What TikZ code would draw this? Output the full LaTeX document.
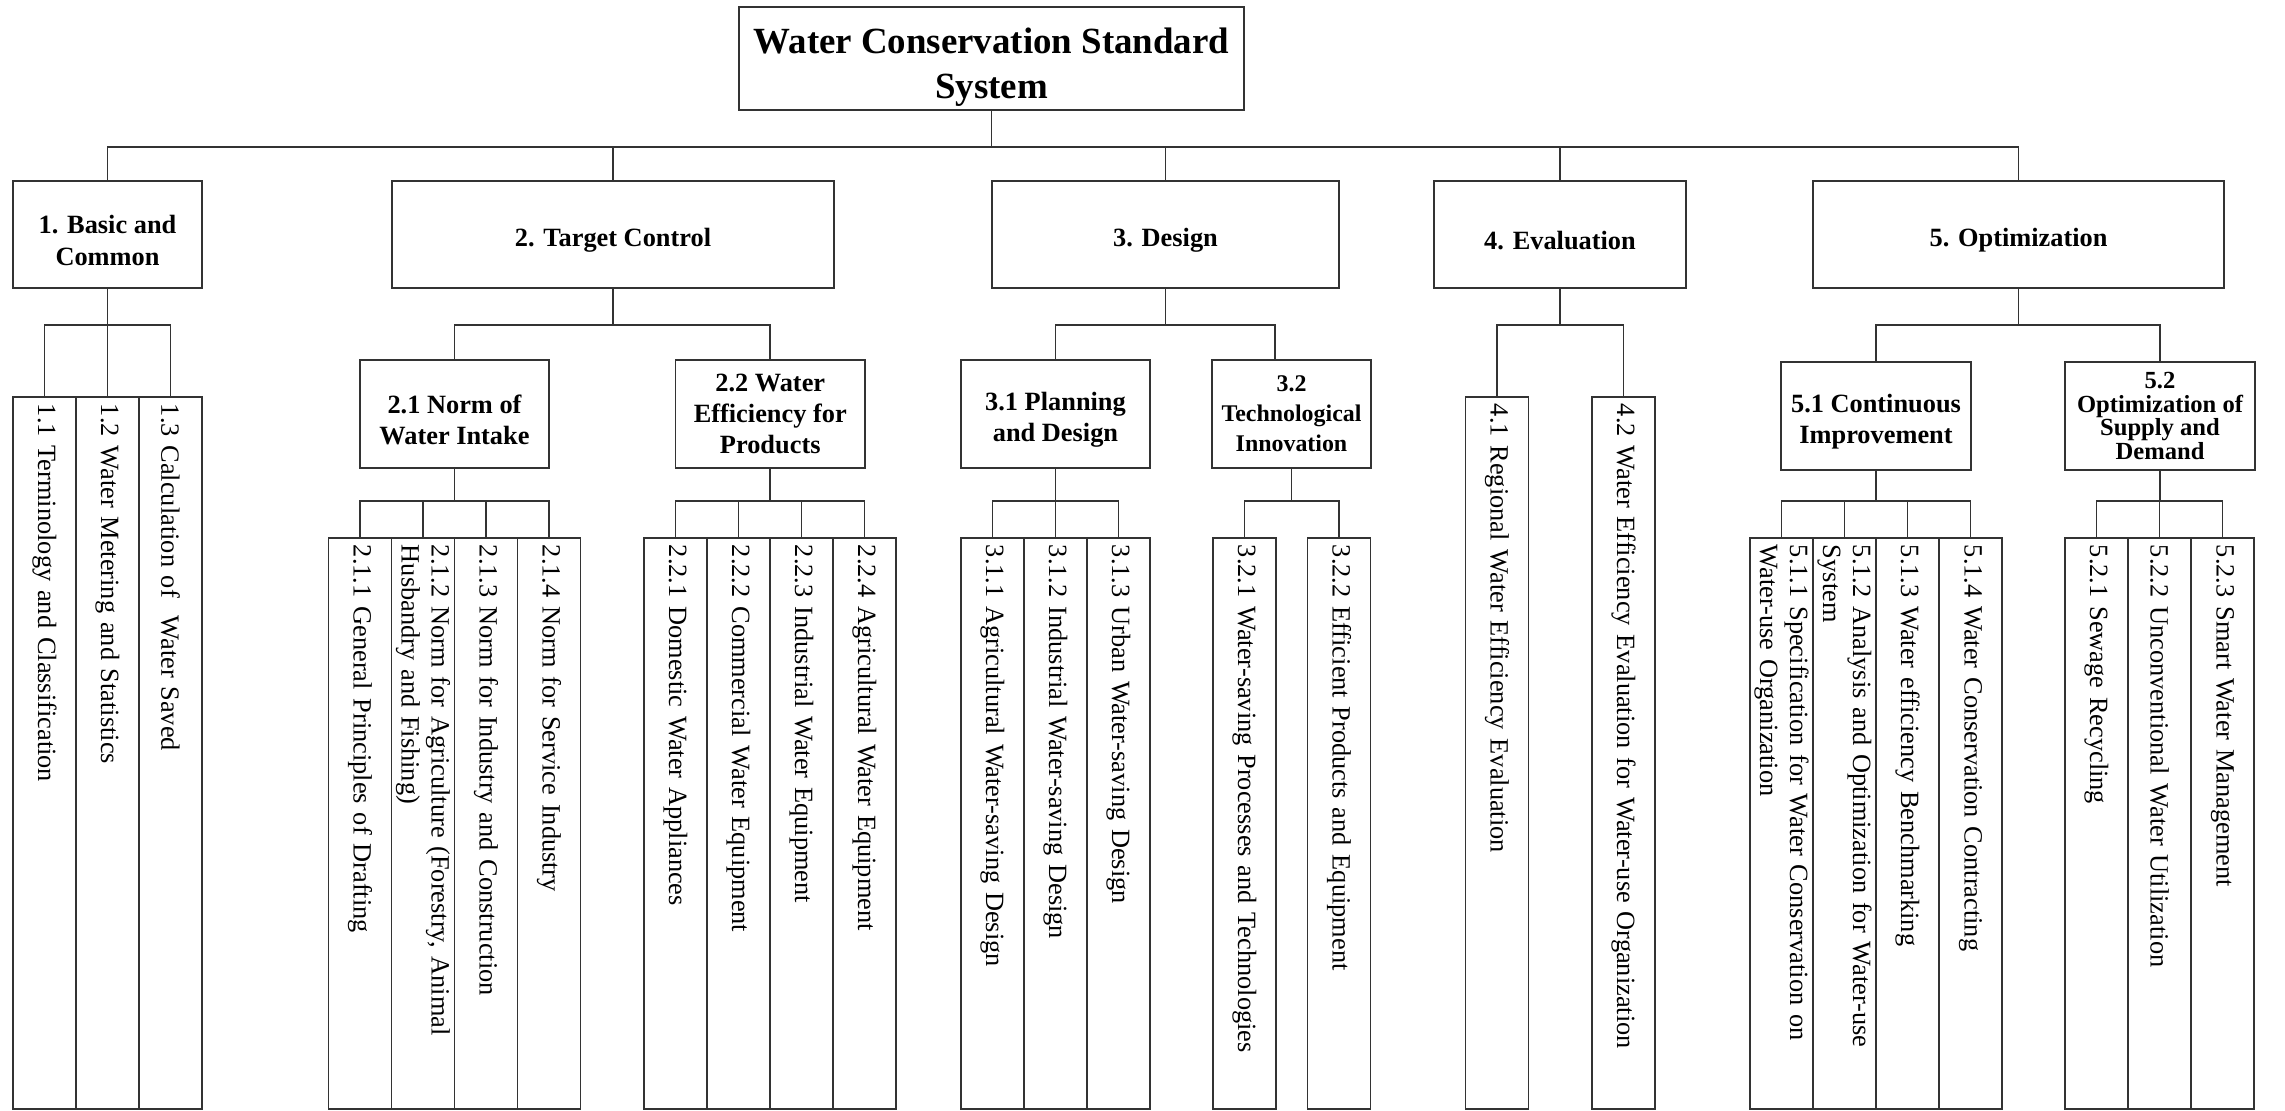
\documentclass[tikz,border=0pt]{standalone}
\usepackage{fontspec}
\setmainfont{Liberation Serif}
\usepackage{tikz}
\newcommand{\boxstrut}{\rule{0pt}{1.15em}}

\begin{document}
\begin{tikzpicture}[x=0.02cm, y=-0.02cm,
  every node/.style={inner sep=0pt},
  conn/.style={draw=black!80, line width=1.1pt},
  rootbox/.style={draw=black!80, line width=1.1pt, align=center, minimum width=10.1cm, minimum height=2.06cm, font=\fontsize{21}{25.5}\selectfont\bfseries},
  topicbox/.style={draw=black!80, line width=1.1pt, align=center, minimum height=2.14cm, font=\fontsize{15}{18}\selectfont\bfseries},
  subbox/.style={topicbox, minimum height=2.16cm, font=\fontsize{15}{17.5}\selectfont\bfseries},
  leaf/.style={draw=black!80, line width=1.1pt, rotate=-90, anchor=west, align=left, inner xsep=0.14cm, minimum height=1.26cm, text width=13.96cm, font=\fontsize{15}{17}\selectfont},
  subleaf/.style={leaf, text width=11.14cm},
]
\useasboundingbox (0,0) rectangle (2285,1111);

\node[rootbox] (root) at (991.5,58.5) {\boxstrut Water Conservation Standard\\System};

% first level
\node[topicbox, minimum width=3.78cm] (basic) at (107.5,234.5) {\boxstrut 1. Basic and\\Common};
\node[topicbox, minimum width=8.84cm] (target) at (613,234.5) {\boxstrut 2. Target Control};
\node[topicbox, minimum width=6.94cm] (design) at (1165.5,234.5) {\boxstrut 3. Design};
\node[topicbox, minimum width=5.04cm] (eval) at (1560,234.5) {\boxstrut 4. Evaluation};
\node[topicbox, minimum width=8.22cm] (optim) at (2018.5,234.5) {\boxstrut 5. Optimization};

% second level
\node[subbox, minimum width=3.78cm] (norm) at (454.5,414) {\boxstrut 2.1 Norm of\\Water Intake};
\node[subbox, minimum width=3.79cm] (effic) at (770.25,414) {2.2 Water\\Efficiency for\\Products};
\node[subbox, minimum width=3.78cm] (plan) at (1055.5,414) {\boxstrut 3.1 Planning\\and Design};
\node[subbox, minimum width=3.18cm, font=\fontsize{13.6}{17}\selectfont\bfseries] (techno) at (1291.5,414) {3.2\\Technological\\Innovation};
\node[subbox, minimum width=3.8cm] (contin) at (1876,416) {\boxstrut 5.1 Continuous\\Improvement};
\node[subbox, minimum width=3.8cm, font=\fontsize{14}{13.5}\selectfont\bfseries] (supply) at (2160,416) {5.2\\Optimization of\\Supply and\\Demand};

% standards
\node[leaf] (term) at (44.5,396) {1.1 Terminology and Classification};
\node[leaf] (meter) at (107.5,396) {1.2 Water Metering and Statistics};
\node[leaf] (calc) at (170.5,396) {1.3 Calculation of~ Water Saved};

\node[subleaf] (draft) at (360,537) {2.1.1 General Principles of Drafting};
\node[subleaf] (agri) at (423,537) {2.1.2 Norm for Agriculture (Forestry, Animal\\Husbandry and Fishing)};
\node[subleaf] (indus) at (486,537) {2.1.3 Norm for Industry and Construction};
\node[subleaf] (serv) at (549,537) {2.1.4 Norm for Service Industry};

\node[subleaf] (dom) at (675.5,537) {2.2.1 Domestic Water Appliances};
\node[subleaf] (comm) at (738.5,537) {2.2.2 Commercial Water Equipment};
\node[subleaf] (indeq) at (801.5,537) {2.2.3 Industrial Water Equipment};
\node[subleaf] (agreq) at (864.5,537) {2.2.4 Agricultural Water Equipment};

\node[subleaf] (agdes) at (992.5,537) {3.1.1 Agricultural Water-saving Design};
\node[subleaf] (indes) at (1055.5,537) {3.1.2 Industrial Water-saving Design};
\node[subleaf] (urdes) at (1118.5,537) {3.1.3 Urban Water-saving Design};

\node[subleaf] (proc) at (1244.5,537) {3.2.1 Water-saving Processes and Technologies};
\node[subleaf] (prod) at (1339,537) {3.2.2 Efficient Products and Equipment};

\node[leaf] (region) at (1497,396) {4.1 Regional Water Efficiency Evaluation};
\node[leaf] (orgeval) at (1623.5,396) {4.2 Water Efficiency Evaluation for Water-use Organization};

\node[subleaf] (spec) at (1781.5,537) {5.1.1 Specification for Water Conservation on\\Water-use Organization};
\node[subleaf] (analy) at (1844.5,537) {5.1.2 Analysis and Optimization for Water-use\\System};
\node[subleaf] (bench) at (1907.5,537) {5.1.3 Water efficiency Benchmarking};
\node[subleaf] (contract) at (1970.5,537) {5.1.4 Water Conservation Contracting};

\node[subleaf] (sewage) at (2096.5,537) {5.2.1 Sewage Recycling};
\node[subleaf] (unconv) at (2159.5,537) {5.2.2 Unconventional Water Utilization};
\node[subleaf] (smart) at (2222.5,537) {5.2.3 Smart Water Management};

% connectors
\coordinate (bus0) at (0,147);
\coordinate (bus1) at (0,325);
\coordinate (bus2) at (0,501);

\draw[conn] (root.south) -- (root.south |- bus0) -| (basic.north)
  (root.south |- bus0) -| (target.north)
  (root.south |- bus0) -| (design.north)
  (root.south |- bus0) -| (eval.north)
  (root.south |- bus0) -| (optim.north);

\draw[conn] (basic.south) -- (basic.south |- bus1) -| (term.west)
  (basic.south |- bus1) -| (meter.west)
  (basic.south |- bus1) -| (calc.west);
\draw[conn] (target.south) -- (target.south |- bus1) -| (norm.north)
  (target.south |- bus1) -| (effic.north);
\draw[conn] (design.south) -- (design.south |- bus1) -| (plan.north)
  (design.south |- bus1) -| ([xshift=-0.33cm]techno.north);
\draw[conn] (eval.south) -- (eval.south |- bus1) -| (region.west)
  (eval.south |- bus1) -| (orgeval.west);
\draw[conn] (optim.south) -- (optim.south |- bus1) -| (contin.north)
  (optim.south |- bus1) -| (supply.north);

\draw[conn] (norm.south) -- (norm.south |- bus2) -| (draft.west)
  (norm.south |- bus2) -| (agri.west)
  (norm.south |- bus2) -| (indus.west)
  (norm.south |- bus2) -| (serv.west);
\draw[conn] (effic.south) -- (effic.south |- bus2) -| (dom.west)
  (effic.south |- bus2) -| (comm.west)
  (effic.south |- bus2) -| (indeq.west)
  (effic.south |- bus2) -| (agreq.west);
\draw[conn] (plan.south) -- (plan.south |- bus2) -| (agdes.west)
  (plan.south |- bus2) -| (indes.west)
  (plan.south |- bus2) -| (urdes.west);
\draw[conn] (techno.south) -- (techno.south |- bus2) -| (proc.west)
  (techno.south |- bus2) -| (prod.west);
\draw[conn] (contin.south) -- (contin.south |- bus2) -| (spec.west)
  (contin.south |- bus2) -| (analy.west)
  (contin.south |- bus2) -| (bench.west)
  (contin.south |- bus2) -| (contract.west);
\draw[conn] (supply.south) -- (supply.south |- bus2) -| (sewage.west)
  (supply.south |- bus2) -| (unconv.west)
  (supply.south |- bus2) -| (smart.west);
\end{tikzpicture}
\end{document}
